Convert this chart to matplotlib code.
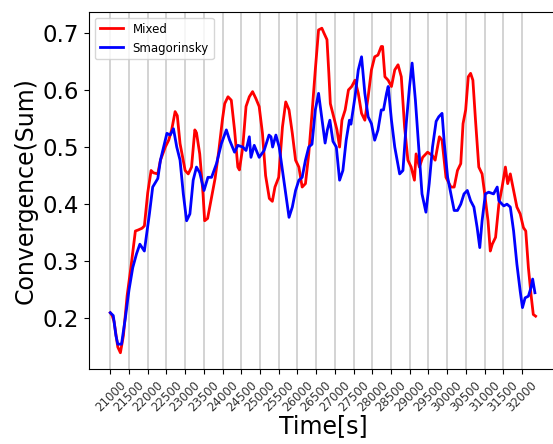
import matplotlib
matplotlib.use('Agg')
import matplotlib.pyplot as plt
import numpy as np

# Mixed model (time in s, summed convergence)
time_mixed = [21000, 21050, 21100, 21200, 21270, 21350, 21450, 21550, 21670, 21750,
              21850, 21911, 22000, 22090, 22150, 22268, 22340, 22470, 22560, 22640,
              22732, 22790, 22864, 23000, 23083, 23171, 23259, 23303, 23390, 23478,
              23521, 23600, 23700, 23800, 23900, 24000, 24057, 24145, 24233, 24320,
              24408, 24450, 24540, 24627, 24715, 24802, 24890, 24978, 25066, 25150,
              25250, 25330, 25400, 25500, 25600, 25688, 25776, 25864, 25951, 26039,
              26127, 26215, 26303, 26390, 26478, 26565, 26653, 26706, 26790, 26840,
              26880, 26969, 27057, 27127, 27190, 27276, 27364, 27451, 27539, 27627,
              27714, 27802, 27890, 27978, 28065, 28153, 28241, 28276, 28338, 28425,
              28513, 28601, 28689, 28776, 28864, 28952, 29039, 29127, 29171, 29259,
              29347, 29478, 29610, 29680, 29794, 29865, 29970, 30102, 30189, 30277,
              30365, 30426, 30496, 30566, 30628, 30689, 30759, 30847, 30935, 31005,
              31093, 31154, 31207, 31295, 31383, 31470, 31558, 31619, 31689, 31777,
              31865, 31953, 32040, 32102, 32172, 32242, 32303, 32365]
conv_mixed = [0.210, 0.205, 0.195, 0.150, 0.140, 0.170, 0.240, 0.289, 0.353, 0.355,
              0.358, 0.362, 0.420, 0.459, 0.455, 0.453, 0.477, 0.500, 0.512, 0.530,
              0.562, 0.555, 0.506, 0.459, 0.453, 0.465, 0.530, 0.525, 0.488, 0.418,
              0.371, 0.375, 0.410, 0.445, 0.494, 0.550, 0.576, 0.588, 0.582, 0.530,
              0.465, 0.460, 0.500, 0.571, 0.588, 0.597, 0.585, 0.571, 0.524, 0.450,
              0.410, 0.405, 0.430, 0.447, 0.535, 0.579, 0.565, 0.524, 0.477, 0.465,
              0.430, 0.436, 0.488, 0.559, 0.635, 0.705, 0.708, 0.700, 0.688, 0.629,
              0.576, 0.553, 0.530, 0.500, 0.547, 0.565, 0.600, 0.606, 0.617, 0.594,
              0.559, 0.547, 0.588, 0.635, 0.658, 0.661, 0.676, 0.676, 0.623, 0.617,
              0.606, 0.635, 0.644, 0.623, 0.535, 0.477, 0.465, 0.442, 0.488, 0.465,
              0.482, 0.491, 0.485, 0.477, 0.518, 0.512, 0.447, 0.430, 0.430, 0.459,
              0.471, 0.541, 0.565, 0.623, 0.629, 0.617, 0.547, 0.465, 0.453, 0.418,
              0.371, 0.318, 0.330, 0.342, 0.400, 0.430, 0.465, 0.436, 0.453, 0.424,
              0.395, 0.383, 0.359, 0.353, 0.289, 0.242, 0.207, 0.204]

# Smagorinsky model
time_smag = [21000, 21080, 21150, 21200, 21300, 21400, 21500, 21600, 21700, 21790,
             21910, 22045, 22133, 22270, 22340, 22470, 22513, 22600, 22688, 22776,
             22864, 22951, 23039, 23127, 23215, 23303, 23390, 23504, 23609, 23706,
             23838, 23969, 24101, 24189, 24320, 24408, 24540, 24627, 24715, 24759,
             24846, 24978, 25110, 25241, 25294, 25337, 25425, 25513, 25600, 25688,
             25776, 25864, 25951, 26039, 26127, 26215, 26303, 26390, 26478, 26565,
             26653, 26740, 26800, 26867, 26950, 27040, 27127, 27215, 27303, 27390,
             27430, 27539, 27627, 27714, 27802, 27890, 27978, 28065, 28153, 28241,
             28300, 28382, 28426, 28513, 28601, 28732, 28820, 28908, 28996, 29065,
             29153, 29241, 29329, 29434, 29522, 29610, 29707, 29777, 29865, 29926,
             30014, 30102, 30189, 30277, 30365, 30452, 30540, 30628, 30716, 30803,
             30873, 30935, 31023, 31110, 31241, 31339, 31383, 31514, 31600, 31689,
             31777, 31865, 31953, 32014, 32084, 32172, 32242, 32286, 32347]
conv_smag = [0.210, 0.205, 0.170, 0.155, 0.155, 0.200, 0.250, 0.289, 0.313, 0.330,
             0.318, 0.383, 0.430, 0.445, 0.477, 0.512, 0.524, 0.521, 0.532, 0.500,
             0.477, 0.418, 0.371, 0.383, 0.442, 0.465, 0.455, 0.424, 0.447, 0.447,
             0.471, 0.506, 0.530, 0.512, 0.491, 0.503, 0.500, 0.494, 0.518, 0.482,
             0.503, 0.482, 0.494, 0.521, 0.518, 0.500, 0.521, 0.500, 0.459, 0.418,
             0.377, 0.395, 0.424, 0.442, 0.447, 0.477, 0.500, 0.505, 0.565, 0.594,
             0.550, 0.507, 0.530, 0.547, 0.510, 0.500, 0.442, 0.459, 0.512, 0.547,
             0.540, 0.588, 0.635, 0.658, 0.594, 0.553, 0.541, 0.512, 0.530, 0.565,
             0.565, 0.594, 0.606, 0.547, 0.500, 0.453, 0.459, 0.541, 0.606, 0.647,
             0.582, 0.500, 0.418, 0.386, 0.436, 0.500, 0.545, 0.553, 0.559, 0.506,
             0.447, 0.418, 0.389, 0.389, 0.400, 0.418, 0.424, 0.406, 0.395, 0.359,
             0.324, 0.371, 0.418, 0.421, 0.418, 0.430, 0.406, 0.397, 0.400, 0.395,
             0.353, 0.295, 0.248, 0.219, 0.236, 0.239, 0.254, 0.269, 0.245]

xticks = np.arange(21000, 32001, 500)

fig = plt.figure(figsize=(5.53, 4.44), dpi=100)
# axes run off the right edge of the picture, as in the cropped original
ax = fig.add_axes([0.161, 0.169, 0.846, 0.804])

for t in xticks:
    ax.axvline(t, color='#cccccc', lw=1.2, zorder=0)

ax.plot(time_mixed, conv_mixed, color='red', lw=2, label='Mixed')
ax.plot(time_smag, conv_smag, color='blue', lw=2, label='Smagorinsky')

ax.set_xticks(xticks)
ax.set_xticklabels([str(t) for t in xticks], rotation=45, fontsize=8.5, color='#333333')
ax.set_yticks([0.2, 0.3, 0.4, 0.5, 0.6, 0.7])
ax.tick_params(axis='y', labelsize=16.5)
ax.set_xlabel('Time[s]', fontsize=17, labelpad=0)
ax.set_ylabel('Convergence(Sum)', fontsize=17)
ax.legend(loc='upper left', fontsize=8.5)

fig.savefig('out.png', dpi=100)
